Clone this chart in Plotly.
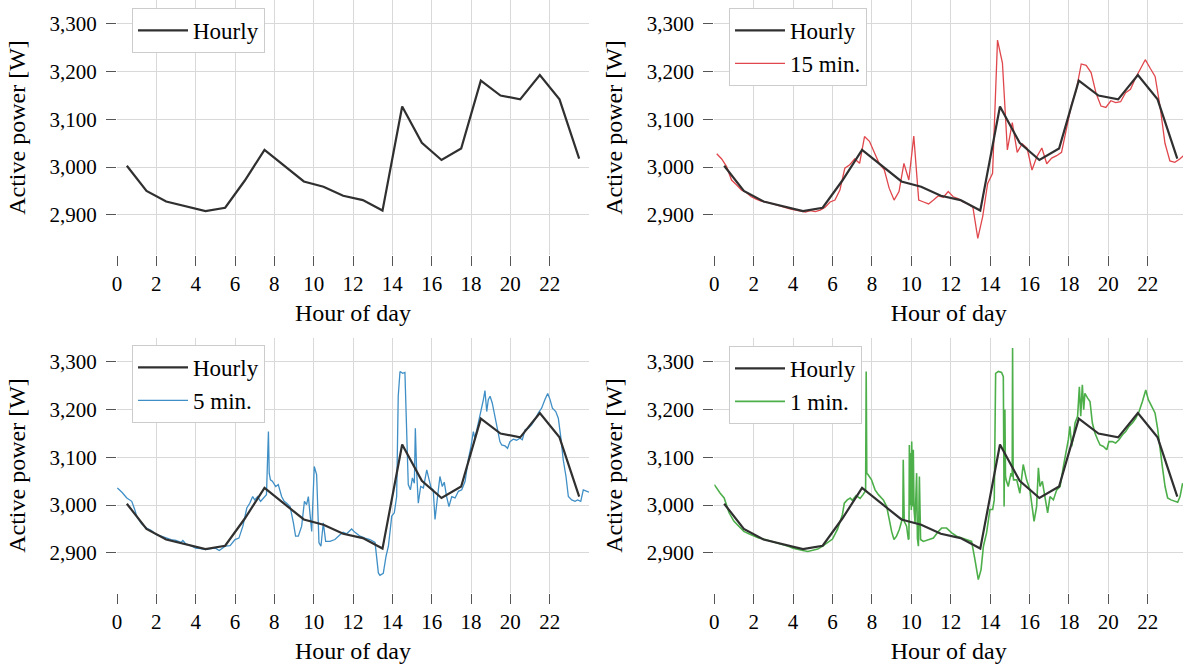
import plotly.graph_objects as go

# ---------------- data ----------------
hourly_x = [0.5, 1.5, 2.5, 3.5, 4.5, 5.5, 6.5, 7.5, 8.5, 9.5, 10.5, 11.5,
            12.5, 13.5, 14.5, 15.5, 16.5, 17.5, 18.5, 19.5, 20.5, 21.5, 22.5, 23.5]
hourly_y = [3003, 2950, 2928, 2918, 2908, 2915, 2972, 3036, 3003, 2970, 2959, 2940,
            2931, 2909, 3127, 3051, 3015, 3039, 3181, 3150, 3142, 3193, 3142, 3018]

min15_y = [3028, 3017, 3001, 2973, 2963, 2952, 2947, 2938,
           2933, 2929, 2927, 2924, 2921, 2917, 2914, 2912,
           2910, 2908, 2906, 2909, 2907, 2910, 2916, 2927,
           2931, 2952, 2998, 3005, 3017, 3008, 3064, 3054,
           3029, 3007, 2995, 2956, 2931, 2949, 3008, 2973,
           3065, 2931, 2927, 2923, 2931, 2940, 2937, 2949,
           2938, 2934, 2927, 2923, 2916, 2851, 2897, 2966,
           2987, 3266, 3218, 3036, 3093, 3031, 3049, 3040,
           2994, 3022, 3040, 3007, 3019, 3024, 3031, 3082,
           3130, 3162, 3216, 3213, 3198, 3155, 3128, 3125,
           3139, 3135, 3137, 3156, 3163, 3186, 3204, 3225,
           3207, 3190, 3127, 3050, 3013, 3010, 3017, 3026]
min15_x = [0.125 + 0.25 * i for i in range(len(min15_y))]

min5_x = [0.02, 0.25, 0.5, 0.75, 0.9, 1.0, 1.25, 1.5, 1.75, 2.0, 2.25, 2.5, 2.75, 3.0,
          3.25, 3.35, 3.5, 3.75, 4.0, 4.25, 4.5, 4.75, 5.0, 5.2, 5.5, 5.75, 6.0, 6.2,
          6.4, 6.6, 6.75, 6.9, 7.0, 7.15, 7.3, 7.45, 7.6, 7.7, 7.74, 7.8, 7.9, 8.07,
          8.2, 8.37, 8.5, 8.63, 8.8, 8.97, 9.08, 9.22, 9.39, 9.53, 9.64, 9.73, 9.81,
          9.9, 10.03, 10.15, 10.27, 10.37, 10.49, 10.61, 10.83, 11.08, 11.34, 11.5,
          11.68, 11.93, 12.1, 12.36, 12.61, 12.86, 13.12, 13.29, 13.37, 13.54, 13.68,
          13.8, 13.97, 14.1, 14.22, 14.3, 14.39, 14.53, 14.64, 14.73, 14.81, 14.92,
          15.02, 15.12, 15.17, 15.24, 15.32, 15.44, 15.58, 15.75, 15.83, 15.97, 16.08,
          16.17, 16.3, 16.42, 16.54, 16.64, 16.76, 16.88, 17.02, 17.19, 17.36, 17.53,
          17.7, 17.86, 18.0, 18.12, 18.2, 18.34, 18.46, 18.54, 18.63, 18.71, 18.8,
          18.88, 18.97, 19.08, 19.22, 19.36, 19.47, 19.56, 19.73, 19.86, 19.98, 20.15,
          20.32, 20.49, 20.61, 20.75, 20.92, 21.08, 21.25, 21.42, 21.59, 21.76, 21.9,
          22.02, 22.14, 22.31, 22.44, 22.56, 22.69, 22.83, 22.95, 23.12, 23.29, 23.42,
          23.58, 23.71, 23.88, 24.0]
min5_y = [3036, 3027, 3015, 3008, 2991, 2977, 2961, 2952, 2947, 2938, 2935, 2931, 2928, 2926,
          2922, 2926, 2919, 2915, 2910, 2909, 2907, 2909, 2910, 2905, 2914, 2915, 2928, 2931,
          2956, 2994, 3004, 3018, 3011, 3018, 3008, 3015, 3022, 3154, 3067, 3053, 3050, 3039,
          3043, 3018, 3008, 3004, 2997, 2963, 2935, 2935, 2956, 3008, 3001, 3018, 2977,
          2945, 3081, 3064, 2921, 2914, 2963, 2924, 2924, 2928, 2938, 2943,
          2940, 2950, 2943, 2935, 2931, 2928, 2922, 2858, 2853, 2857, 2893,
          2914, 2977, 2984, 3018, 3228, 3280, 3276, 3278, 3151, 3043, 3032,
          3057, 3046, 3161, 3067, 3004, 3039, 3036, 3074, 3060, 3036, 3032,
          2970, 3018, 3060, 3039, 3048, 3018, 2997, 3018, 3015, 3029, 3032,
          3050, 3095, 3123, 3154, 3140, 3165, 3189, 3203, 3221, 3240, 3196,
          3221, 3228, 3214, 3186, 3151, 3133, 3126, 3124, 3119, 3133, 3138,
          3136, 3140, 3137, 3158, 3161, 3168, 3179, 3193, 3203, 3221, 3234,
          3221, 3203, 3196, 3182, 3144, 3095, 3060, 3018, 3011, 3008, 3011,
          3008, 3032, 3029, 3027]

min1_x = [0.0, 0.1, 0.3, 0.5, 0.6, 0.75, 1.0, 1.25, 1.5, 1.75, 2.0, 2.25, 2.5, 2.75,
          3.0, 3.25, 3.5, 3.75, 4.0, 4.25, 4.5, 4.75, 5.0, 5.25, 5.5, 5.75, 6.0, 6.25,
          6.5, 6.6, 6.75, 6.9, 7.0, 7.2, 7.4, 7.55, 7.68, 7.71, 7.74, 7.8, 7.98, 8.16,
          8.33, 8.58, 8.75, 8.88, 9.0, 9.12, 9.25, 9.39, 9.51, 9.57, 9.59, 9.61, 9.64,
          9.76, 9.85, 9.88, 9.9, 9.93, 9.97, 10.0, 10.02, 10.05, 10.07, 10.1, 10.14,
          10.19, 10.27, 10.31, 10.36, 10.41, 10.45, 10.47, 10.61, 10.86, 11.12, 11.37,
          11.54, 11.79, 12.05, 12.3, 12.55, 12.81, 13.06, 13.23, 13.32, 13.4, 13.54,
          13.66, 13.82, 13.99, 14.13, 14.21, 14.28, 14.42, 14.58, 14.67, 14.71, 14.75,
          14.78, 14.81, 14.92, 15.06, 15.12, 15.14, 15.17, 15.19, 15.35, 15.51, 15.68,
          15.85, 16.02, 16.11, 16.23, 16.36, 16.45, 16.53, 16.65, 16.78, 16.92, 17.04,
          17.21, 17.38, 17.55, 17.72, 17.88, 17.97, 18.05, 18.14, 18.23, 18.31, 18.44,
          18.53, 18.6, 18.68, 18.75, 18.81, 18.95, 19.07, 19.19, 19.32, 19.46, 19.58,
          19.75, 19.92, 20.03, 20.2, 20.37, 20.54, 20.71, 20.88, 21.05, 21.22, 21.39,
          21.56, 21.73, 21.9, 22.03, 22.2, 22.37, 22.5, 22.62, 22.74, 22.88, 23.01,
          23.18, 23.35, 23.52, 23.64, 23.77]
min1_y = [3043, 3036, 3025, 3015, 3004, 2984, 2966, 2956, 2945, 2940, 2936, 2931, 2929, 2926,
          2924, 2921, 2917, 2914, 2910, 2907, 2905, 2903, 2905, 2908, 2914, 2921, 2929, 2949,
          2980, 3004, 3011, 3015, 3010, 3020, 3014, 3022, 3030, 3280, 3067, 3064, 3053, 3032,
          3022, 3011, 2997, 2970, 2945, 2928, 2935, 2949, 2970, 2975, 3095, 2970, 2966,
          2956, 2928, 2930, 3126, 3000, 3109, 2990, 3133, 3000, 2997, 3116, 2990,
          2963, 3067, 2930, 2914, 3060, 2930, 2928, 2924, 2928, 2931, 2945,
          2952, 2952, 2942, 2935, 2931, 2928, 2924, 2886, 2858, 2844, 2865,
          2914, 2942, 2991, 2991, 3011, 3276, 3280, 3278, 3269, 2997, 3200,
          3060, 3053, 3039, 3067, 3060, 3329, 3060, 3053, 3053, 3025, 3085,
          3053, 3032, 3004, 2966, 2997, 3078, 3039, 3050, 3018, 2984, 3018,
          3011, 3032, 3039, 3081, 3116, 3137, 3165, 3123, 3144, 3172, 3186,
          3248, 3186, 3252, 3200, 3234, 3224, 3217, 3172, 3151, 3137, 3126,
          3123, 3116, 3133, 3133, 3130, 3137, 3147, 3154, 3165, 3172, 3182,
          3196, 3217, 3241, 3221, 3207, 3193, 3161, 3116, 3081, 3039, 3015,
          3011, 3008, 3006, 3018, 3046]

x_tick_vals = [0, 2, 4, 6, 8, 10, 12, 14, 16, 18, 20, 22]
y_tick_vals = [2900, 3000, 3100, 3200, 3300]
y_tick_text = ["2,900", "3,000", "3,100", "3,200", "3,300"]

# ---------------- styling ----------------
FONT = "Liberation Serif"
HOURLY_COLOR = "#303030"
RED = "#e0474c"
BLUE = "#3f8fc6"
GREEN = "#4daf4a"
GRID = "#d9d9d9"

W, H = 1183, 669
left_dom = [117 / W, 589 / W]
right_dom = [714.3 / W, 1.0]
top_dom = [1 - 255 / H, 1.0]
bot_dom = [1 - 593 / H, 1 - 338 / H]

fig = go.Figure()

panels = [
    # (xaxis, yaxis, legend, fine series, line width)
    ("x", "y", "legend", None),
    ("x2", "y2", "legend2", ("15 min.", min15_x, min15_y, RED, 1.3)),
    ("x3", "y3", "legend3", ("5 min.", min5_x, min5_y, BLUE, 1.3)),
    ("x4", "y4", "legend4", ("1 min.", min1_x, min1_y, GREEN, 1.6)),
]

for xa, ya, lg, fine in panels:
    if fine is not None:
        name, fx, fy, col, lw = fine
        fig.add_trace(go.Scatter(x=fx, y=fy, mode="lines", name=name,
                                 line=dict(color=col, width=lw),
                                 xaxis=xa, yaxis=ya, legend=lg, showlegend=True))
    fig.add_trace(go.Scatter(x=hourly_x, y=hourly_y, mode="lines", name="Hourly",
                             line=dict(color=HOURLY_COLOR, width=2.2),
                             xaxis=xa, yaxis=ya, legend=lg, showlegend=True))

def xaxis_style(domain, anchor, rng):
    return dict(domain=domain, anchor=anchor, range=rng,
                tickmode="array", tickvals=x_tick_vals,
                showgrid=True, gridcolor=GRID, gridwidth=1.3,
                zeroline=False, showline=False,
                ticks="outside", ticklen=10, tickwidth=1.3, tickcolor="#555555",
                tickfont=dict(family=FONT, size=21, color="black"),
                title=dict(text="Hour of day", font=dict(family=FONT, size=24, color="black"),
                           standoff=8),
                automargin=False, fixedrange=True)

def yaxis_style(domain, anchor):
    return dict(domain=domain, anchor=anchor, range=[2816, 3350],
                tickmode="array", tickvals=y_tick_vals, ticktext=y_tick_text,
                showgrid=True, gridcolor=GRID, gridwidth=1.3,
                zeroline=False, showline=False,
                ticks="outside", ticklen=10, tickwidth=1.3, tickcolor="#555555",
                tickfont=dict(family=FONT, size=21, color="black"),
                ticklabelstandoff=5,
                title=dict(text="Active power [W]", font=dict(family=FONT, size=24, color="black"),
                           standoff=17),
                automargin=False, fixedrange=True)

def legend_style(x, y):
    return dict(x=x, y=y, xanchor="left", yanchor="top",
                bgcolor="white", bordercolor="#cccccc", borderwidth=1,
                font=dict(family=FONT, size=23, color="black"),
                traceorder="reversed", itemwidth=50, tracegroupgap=0)

fig.update_layout(
    width=W, height=H,
    margin=dict(l=0, r=0, t=0, b=0),
    showlegend=True,
    paper_bgcolor="white", plot_bgcolor="white",
    font=dict(family=FONT, color="black"),
    xaxis=xaxis_style(left_dom, "y", [0, 24]),
    yaxis=yaxis_style(top_dom, "x"),
    xaxis2=xaxis_style(right_dom, "y2", [0, 23.79]),
    yaxis2=yaxis_style(top_dom, "x2"),
    xaxis3=xaxis_style(left_dom, "y3", [0, 24]),
    yaxis3=yaxis_style(bot_dom, "x3"),
    xaxis4=xaxis_style(right_dom, "y4", [0, 23.79]),
    yaxis4=yaxis_style(bot_dom, "x4"),
    legend=legend_style(132 / W, 1 - 8 / H),
    legend2=legend_style(729 / W, 1 - 8 / H),
    legend3=legend_style(132 / W, 1 - 345 / H),
    legend4=legend_style(729 / W, 1 - 346 / H),
)

fig.write_html("out.html")
